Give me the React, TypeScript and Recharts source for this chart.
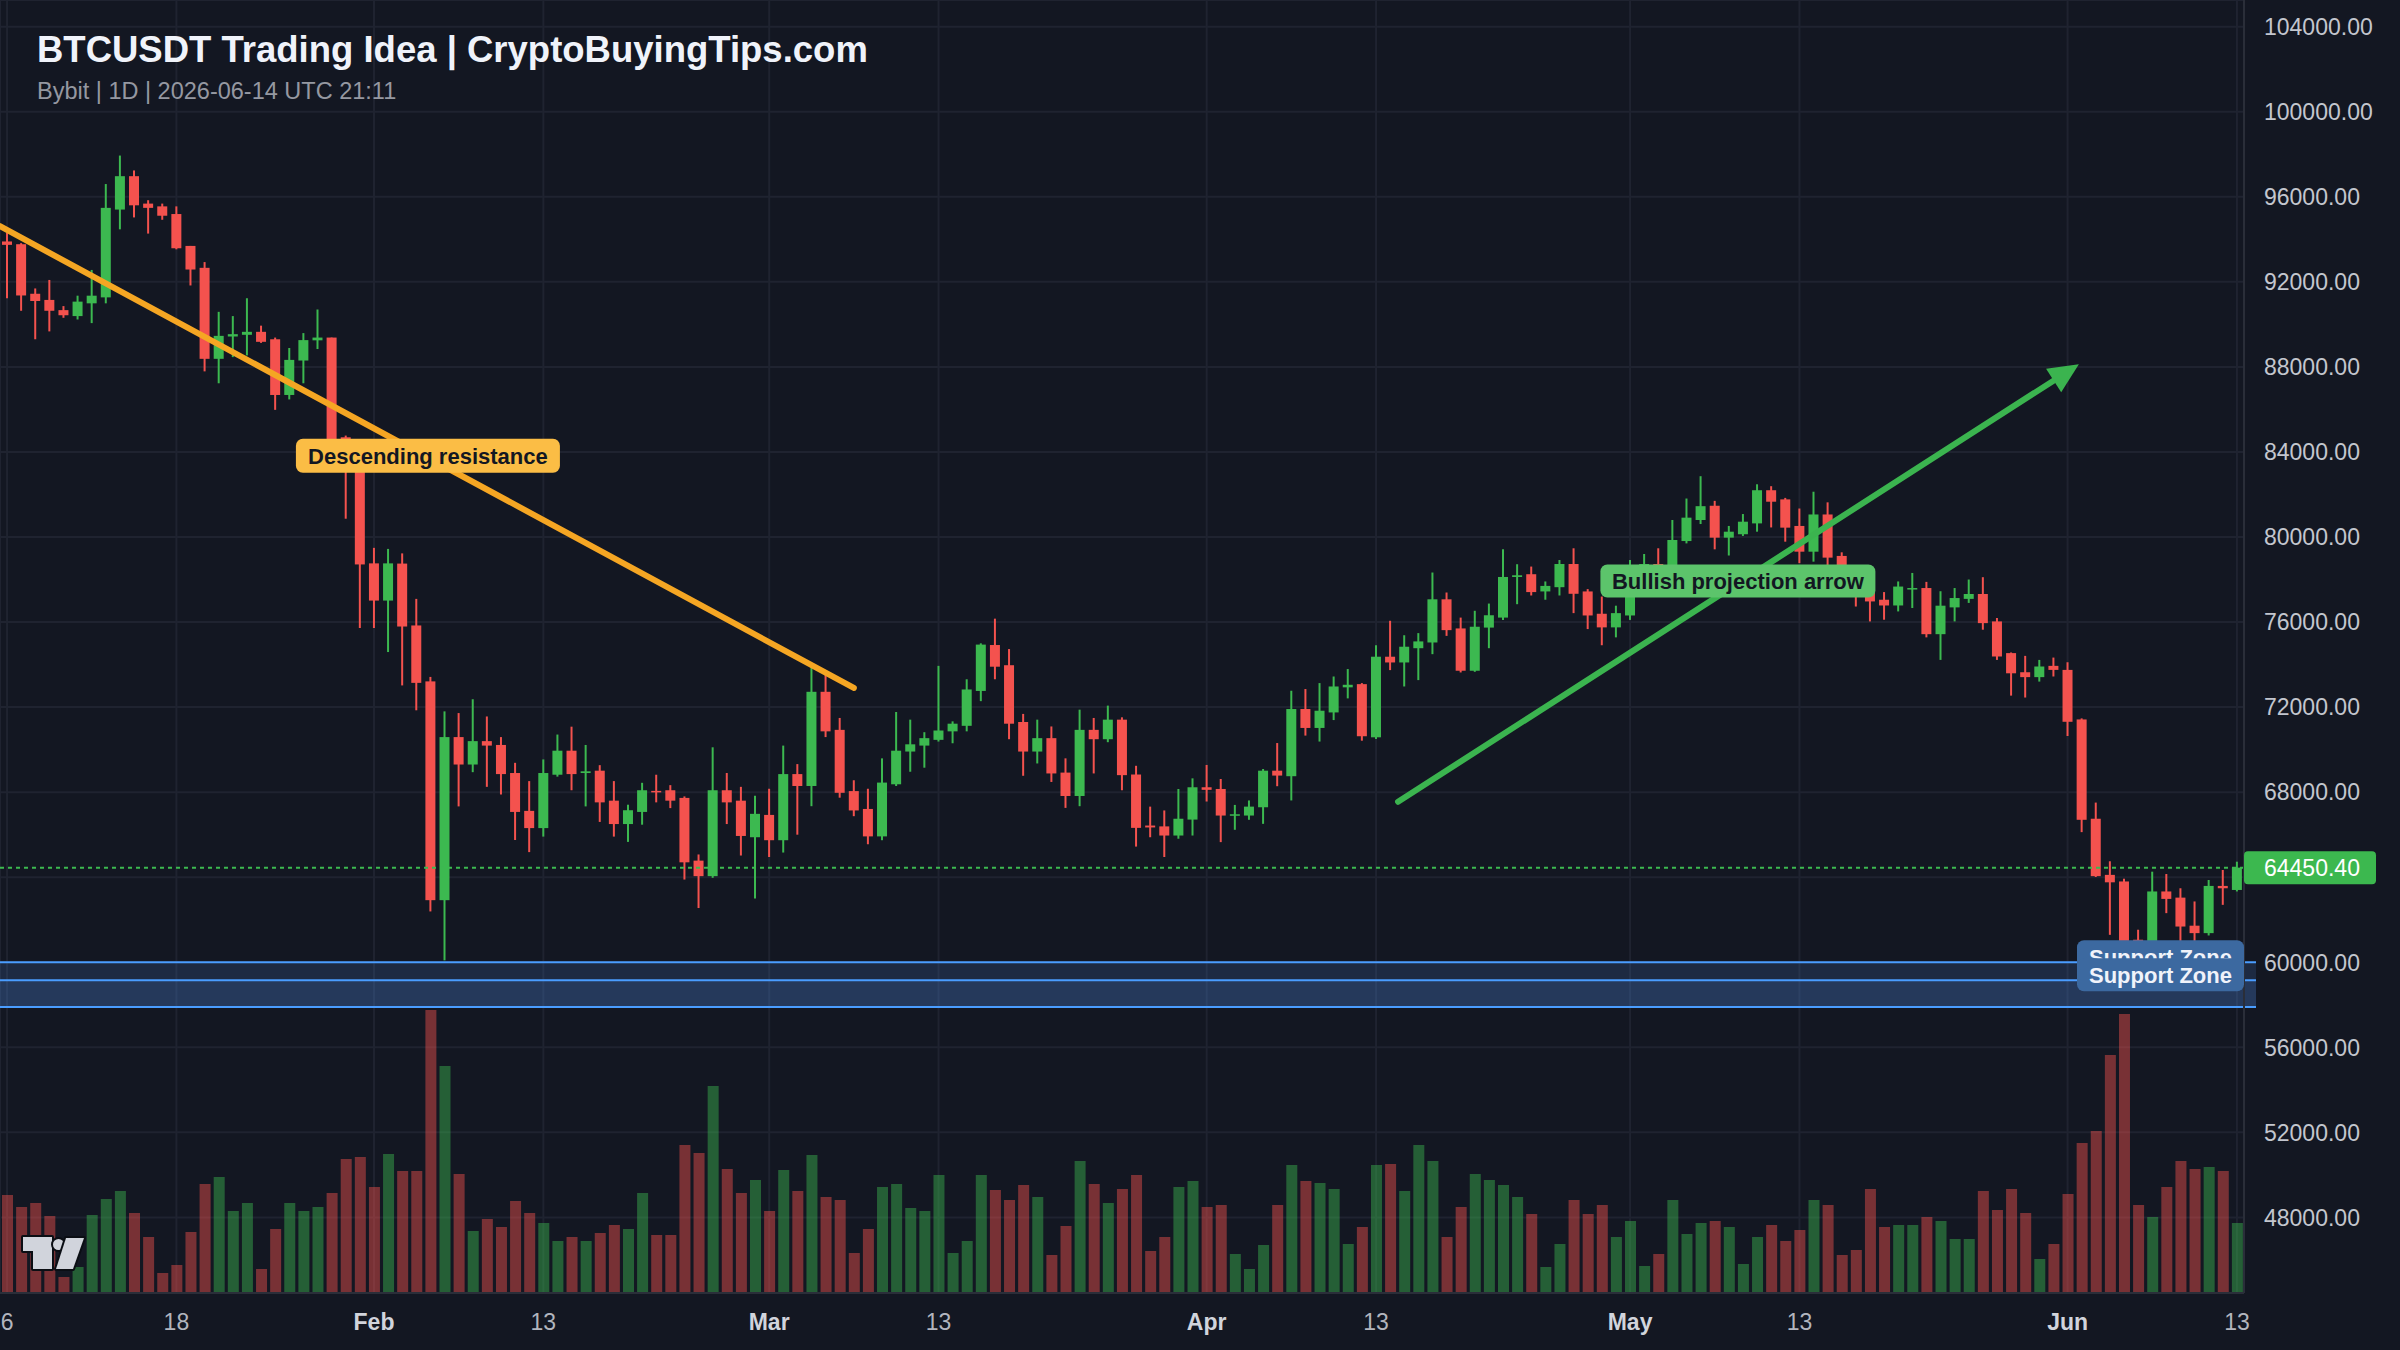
import React from "react";
import {
  ComposedChart,
  Bar,
  Cell,
  XAxis,
  YAxis,
  CartesianGrid,
  ReferenceLine,
  ReferenceArea,
  ReferenceDot,
} from "recharts";

const BG = "#131722";
const UP = "#3cb950";
const DOWN = "#f4524e";
const UP_VOL = "rgba(60,185,80,0.45)";
const DOWN_VOL = "rgba(244,82,78,0.45)";
const GRID = "#1f2330";
const FONT = '"Liberation Sans", Arial, Helvetica, sans-serif';

// daily candles, Jan 6 -> Jun 13
const open = [
  93900, 93770, 91440, 91150, 90670, 90390, 90990, 91270, 95400, 96970,
  95680, 95550, 95190, 93690, 92660, 88380, 89430, 89510, 89650, 89300,
  86680, 88300, 89250, 89380, 84690, 84350, 78760, 77010, 78750, 75840,
  73210, 62920, 70590, 69300, 70400, 70220, 68900, 67120, 66310, 68820,
  69950, 68900, 69010, 67600, 66500, 67070, 68060, 68090, 67730, 64780,
  64050, 68090, 67600, 65880, 66930, 65740, 68850, 68290, 72720, 70930,
  68050, 67210, 65920, 68370, 69910, 70190, 70460, 70860, 71120, 72760,
  74920, 73970, 71300, 69910, 70540, 68920, 67820, 70930, 70490, 71410,
  68830, 66430, 66390, 65960, 66710, 68230, 68150, 66890, 66900, 67290,
  69010, 68750, 71910, 71020, 71750, 72930, 73080, 70580, 74370, 74100,
  74770, 75040, 77070, 75700, 73710, 75740, 76210, 78120, 78250, 77440,
  77640, 78730, 77440, 76390, 75750, 76310, 77600, 78730, 78600, 79810,
  80800, 81470, 79970, 80130, 80640, 82200, 81770, 80520, 79310, 81060,
  79110, 78300, 77700, 77050, 76780, 77540, 77600, 75430, 76690, 77090,
  77320, 76030, 74540, 73640, 73410, 73940, 73750, 71420, 66750, 64110,
  63800, 61060, 61000, 63330, 63040, 61720, 61370, 63590, 63400,
];
const high = [
  94300, 93820, 91690, 92090, 90860, 91350, 92560, 96600, 97940, 97240,
  95840, 95680, 95550, 93690, 92930, 90590, 90390, 91230, 89940, 89380,
  88890, 89590, 90700, 89380, 84770, 84500, 79490, 79440, 79230, 77090,
  73420, 71800, 71720, 72370, 71560, 70590, 69380, 68520, 69540, 70710,
  71080, 70220, 69270, 68520, 67410, 68440, 68820, 68330, 67800, 65070,
  70110, 68900, 68250, 67830, 68160, 70190, 69320, 73940, 73550, 71490,
  68560, 68160, 69590, 71770, 71410, 70820, 73940, 71330, 73310, 75000,
  76160, 74730, 71680, 71410, 71090, 69590, 71880, 71490, 72070, 71520,
  69240, 67320, 67140, 68150, 68650, 69280, 68620, 67400, 67610, 69090,
  70310, 72770, 72850, 73130, 73440, 73790, 73130, 74910, 76060, 75380,
  75480, 78330, 77390, 76210, 76530, 76870, 79420, 78720, 78610, 77910,
  78920, 79470, 77550, 77200, 76770, 78920, 79200, 79470, 80800, 81810,
  82860, 81700, 80520, 81080, 82480, 82390, 81840, 81340, 82130, 81630,
  79280, 78500, 77900, 77410, 77910, 78310, 77890, 77450, 77600, 78000,
  78110, 76190, 74570, 74410, 74220, 74330, 74110, 71470, 67510, 64750,
  63930, 61530, 64260, 64150, 63480, 62860, 63870, 64340, 64730,
];
const low = [
  91230, 90640, 89300, 89670, 90310, 90230, 90060, 90990, 94470, 95030,
  94270, 94920, 93530, 91830, 87790, 87230, 88460, 88540, 89130, 85980,
  86470, 87230, 88840, 84530, 80860, 75720, 75720, 74590, 73020, 71850,
  62390, 60090, 67330, 68940, 68250, 67890, 65750, 65180, 65910, 68730,
  68090, 67330, 66600, 65910, 65660, 66470, 67520, 67250, 63890, 62550,
  63970, 66500, 65020, 63000, 64950, 65160, 66000, 67340, 70590, 67740,
  66870, 65550, 65740, 68290, 68960, 69150, 70380, 70300, 70860, 72280,
  73310, 70490, 68770, 69350, 68480, 67260, 67340, 68880, 70350, 68090,
  65440, 65880, 64950, 65810, 65960, 67560, 65650, 66230, 66700, 66510,
  68280, 67610, 70660, 70380, 71390, 72410, 70420, 70500, 73740, 72970,
  73270, 74490, 75350, 73630, 73660, 74770, 76100, 76840, 77250, 77050,
  77250, 76420, 75670, 74910, 75280, 76100, 77300, 77500, 78300, 79700,
  80610, 79420, 79130, 80050, 80250, 80450, 79780, 78770, 78840, 78610,
  77900, 76730, 76030, 76110, 76500, 76660, 75280, 74220, 76030, 76900,
  75640, 74220, 72540, 72450, 73200, 73440, 70640, 66120, 64010, 61290,
  60600, 60500, 60400, 62310, 60900, 60900, 61260, 62700, 63330,
];
const close = [
  93740, 91360, 91100, 90640, 90430, 91070, 91350, 95480, 96970, 95600,
  95480, 95110, 93580, 92580, 88380, 89460, 89540, 89650, 89180, 86680,
  88330, 89260, 89380, 84610, 84350, 78710, 77010, 78760, 75790, 73140,
  62920, 70590, 69300, 70400, 70190, 68850, 67070, 66310, 68900, 69950,
  68850, 68980, 67520, 66500, 67150, 68090, 68010, 67600, 64700, 64050,
  68090, 67520, 65940, 66980, 65740, 68850, 68290, 72720, 70860, 67970,
  67140, 65920, 68450, 69950, 70250, 70540, 70900, 71220, 72830, 74940,
  73900, 71220, 69910, 70540, 68880, 67820, 70930, 70490, 71410, 68800,
  66320, 66340, 65960, 66750, 68230, 68110, 66900, 66960, 67320, 69010,
  68780, 71910, 71020, 71830, 72970, 73050, 70630, 74370, 74100, 74840,
  75090, 77070, 75620, 73710, 75780, 76320, 78120, 78200, 77410, 77700,
  78730, 77330, 76310, 75750, 76420, 78000, 78730, 77900, 79860, 80910,
  81450, 79970, 80250, 80720, 82200, 81660, 80440, 79310, 81060, 79030,
  78300, 77600, 76970, 76780, 77670, 77600, 75430, 76770, 77130, 77320,
  75950, 74380, 73590, 73410, 73910, 73750, 71310, 66700, 64050, 63760,
  61000, 60900, 63330, 62980, 61680, 61370, 63590, 63480, 64450.4,
];
const volume = [
  98, 86, 90, 77, 16, 26, 78, 94, 102, 80,
  56, 20, 28, 61, 109, 116, 82, 90, 24, 64,
  90, 82, 86, 100, 134, 136, 106, 139, 122, 122,
  283, 227, 119, 62, 74, 66, 92, 80, 70, 52,
  56, 52, 60, 68, 64, 100, 58, 58, 148, 140,
  207, 124, 100, 113, 82, 123, 102, 138, 96, 93,
  40, 64, 106, 109, 85, 82, 118, 40, 52, 118,
  103, 93, 108, 96, 38, 67, 132, 109, 90, 104,
  118, 42, 56, 106, 112, 86, 88, 39, 24, 48,
  88, 128, 112, 110, 104, 49, 66, 128, 129, 102,
  148, 132, 56, 86, 119, 113, 108, 96, 79, 26,
  49, 93, 79, 88, 56, 72, 27, 39, 93, 59,
  70, 72, 66, 29, 56, 68, 52, 63, 93, 88,
  38, 43, 104, 66, 68, 68, 76, 72, 54, 54,
  102, 83, 104, 80, 34, 49, 99, 150, 162, 238,
  279, 88, 76, 106, 132, 124, 126, 122, 70,
];

const tickIdx = [0, 12, 26, 38, 54, 66, 85, 97, 115, 127, 146, 158];
const tickText = ["6", "18", "Feb", "13", "Mar", "13", "Apr", "13", "May", "13", "Jun", "13"];
const priceTicks = [48000, 52000, 56000, 60000, 64000, 68000, 72000, 76000, 80000, 84000, 88000, 92000, 96000, 100000, 104000];

const lastPrice = 64450.4;
const resistance = [
  { x: -0.5, y: 94620 },
  { x: 60, y: 72900 },
];
const projection = [
  { x: 98.56, y: 67550 },
  { x: 146.8, y: 88120 },
];
const zones = [
  { from: 57900, to: 60000 },
  { from: 57900, to: 59150 },
];

const rows = open.map((o, i) => ({
  i,
  open: o,
  high: high[i],
  low: low[i],
  close: close[i],
  volume: volume[i],
}));

const Candle = (props: any) => {
  const { x, y, width, height, payload } = props;
  const k = height / (payload.high - payload.low);
  const cx = x + width / 2;
  const yo = y + (payload.high - payload.open) * k;
  const yc = y + (payload.high - payload.close) * k;
  const color = payload.close >= payload.open ? UP : DOWN;
  const top = Math.min(yo, yc);
  const h = Math.max(Math.abs(yc - yo), 1.5);
  return (
    <g>
      <line x1={cx} x2={cx} y1={y} y2={y + height} stroke={color} strokeWidth={2} />
      <rect x={cx - 5} y={top} width={10} height={h} fill={color} />
    </g>
  );
};

const Zone = (p: any) => (
  <g>
    <rect x={p.x} y={p.y} width={p.width} height={p.height} fill="#4576c2" fillOpacity={0.2} />
    <line x1={p.x} x2={p.x + p.width} y1={p.y} y2={p.y} stroke="#4a9dff" strokeWidth={2} />
    <line x1={p.x} x2={p.x + p.width} y1={p.y + p.height} y2={p.y + p.height} stroke="#4a9dff" strokeWidth={2} />
  </g>
);

const Arrow = ({ x1, y1, x2, y2 }: any) => {
  const len = Math.hypot(x2 - x1, y2 - y1);
  const ux = (x2 - x1) / len;
  const uy = (y2 - y1) / len;
  const bx = x2 - ux * 30;
  const by = y2 - uy * 30;
  return (
    <g>
      <line x1={x1} y1={y1} x2={bx + ux * 4} y2={by + uy * 4} stroke="#3bb44f" strokeWidth={6} strokeLinecap="round" />
      <polygon
        points={`${x2},${y2} ${bx - uy * 14},${by + ux * 14} ${bx + uy * 14},${by - ux * 14}`}
        fill="#3bb44f"
      />
    </g>
  );
};

const tag = (text: string, fill: string, w: number, h: number) => (p: any) => (
  <g>
    <rect x={p.cx - w / 2} y={p.cy - h / 2} width={w} height={h} rx={7} fill={fill} />
    <text x={p.cx} y={p.cy} dy="0.36em" textAnchor="middle" fontFamily={FONT} fontWeight={700} fontSize={22} fill="#131722">
      {text}
    </text>
  </g>
);

const ZoneTag = (p: any) => (
  <g>
    <rect x={p.cx - 167} y={p.cy - 22} width={167} height={33} rx={7} fill="#3c69a0" />
    <text x={p.cx - 83.5} y={p.cy - 5.5} dy="0.36em" textAnchor="middle" fontFamily={FONT} fontWeight={700} fontSize={22} fill="#f0f3fa">
      Support Zone
    </text>
  </g>
);

const PriceTag = (p: any) => (
  <g>
    <rect x={p.cx} y={p.cy - 16.5} width={132} height={33} rx={4} fill="#3cb84f" />
    <text x={p.cx + 20} y={p.cy} dy="0.36em" fontFamily={FONT} fontSize={23} fill="#ffffff">
      {lastPrice.toFixed(2)}
    </text>
  </g>
);

const XTick = ({ x, y, payload }: any) => {
  const label = tickText[tickIdx.indexOf(payload.value)] ?? "";
  const month = /[A-Za-z]/.test(label);
  return (
    <text x={x} y={y + 37} textAnchor="middle" fontFamily={FONT} fontSize={23} fontWeight={month ? 700 : 400} fill={month ? "#d1d4dc" : "#b2b5be"}>
      {label}
    </text>
  );
};

const YTick = ({ x, y, payload }: any) => {
  if (payload.value === 64000) return <g />;
  return (
    <text x={x} y={y} dy="0.36em" textAnchor="start" fontFamily={FONT} fontSize={23} fill="#c3c6ce">
      {Number(payload.value).toFixed(2)}
    </text>
  );
};

export default function App() {
  return (
    <div style={{ position: "relative", width: 2400, height: 1350, background: BG }}>
      <style>{`body{margin:0;background:${BG};}`}</style>
      <ComposedChart width={2400} height={1350} data={rows} margin={{ top: 0, right: 0, bottom: 0, left: 0 }}>
        <CartesianGrid stroke={GRID} strokeWidth={2} />
        <XAxis
          dataKey="i"
          type="number"
          domain={[-0.5, 158.5]}
          ticks={tickIdx}
          interval={0}
          height={57}
          tickSize={0}
          tickMargin={0}
          tick={<XTick />}
          axisLine={{ stroke: "#2a2e39", strokeWidth: 2 }}
          tickLine={false}
        />
        <XAxis xAxisId="v" dataKey="i" type="number" domain={[-0.5, 158.5]} hide />
        <YAxis
          orientation="right"
          type="number"
          domain={[44445, 105256]}
          allowDataOverflow
          ticks={priceTicks}
          interval={0}
          width={156}
          tickSize={0}
          tickMargin={20}
          tick={<YTick />}
          axisLine={{ stroke: "#2a2e39", strokeWidth: 2 }}
          tickLine={false}
        />
        <YAxis yAxisId="v" type="number" domain={[0, 1293]} hide />

        {zones.map((z, k) => (
          <ReferenceArea key={k} x1={-0.5} x2={159.35} y1={z.from} y2={z.to} ifOverflow="visible" shape={<Zone />} />
        ))}

        <Bar xAxisId="v" yAxisId="v" dataKey="volume" barSize={11} isAnimationActive={false}>
          {rows.map((r) => (
            <Cell key={r.i} fill={r.close >= r.open ? UP_VOL : DOWN_VOL} />
          ))}
        </Bar>
        <Bar dataKey={(d: any) => [d.low, d.high]} barSize={10} shape={<Candle />} isAnimationActive={false} />

        <ReferenceLine y={lastPrice} stroke={UP} strokeWidth={2} strokeDasharray="4 4" />
        <ReferenceLine segment={resistance} stroke="#f5a623" strokeWidth={6} strokeLinecap="round" />
        <ReferenceLine segment={projection} shape={<Arrow />} />

        <ReferenceDot x={29.82} y={83820} shape={tag("Descending resistance", "#fbbd45", 264, 34)} />
        <ReferenceDot x={122.64} y={77930} shape={tag("Bullish projection arrow", "#5cc46b", 275, 33)} />
        {zones.map((z, k) => (
          <ReferenceDot key={k} x={158.5} y={z.to} shape={<ZoneTag />} />
        ))}
        <ReferenceDot x={158.5} y={lastPrice} shape={<PriceTag />} />
      </ComposedChart>

      <svg width={2400} height={1350} style={{ position: "absolute", left: 0, top: 0, pointerEvents: "none" }}>
        <text x={37} y={62} fontFamily={FONT} fontWeight={700} fontSize={36.5} fill="#f0f3fa">
          BTCUSDT Trading Idea | CryptoBuyingTips.com
        </text>
        <text x={37} y={99} fontFamily={FONT} fontSize={23.5} fill="#9598a1">
          Bybit | 1D | 2026-06-14 UTC 21:11
        </text>
        <g fill="#d1d4dc" stroke="#0b0e14" strokeWidth={4} paintOrder="stroke" strokeLinejoin="round">
          <path d="M23 1237 H52 V1269 H33 V1251 H23 Z" />
          <circle cx={58.5} cy={1244.5} r={5.5} />
          <path d="M66 1238 H84 L73 1269 H56 Z" />
        </g>
      </svg>
    </div>
  );
}
